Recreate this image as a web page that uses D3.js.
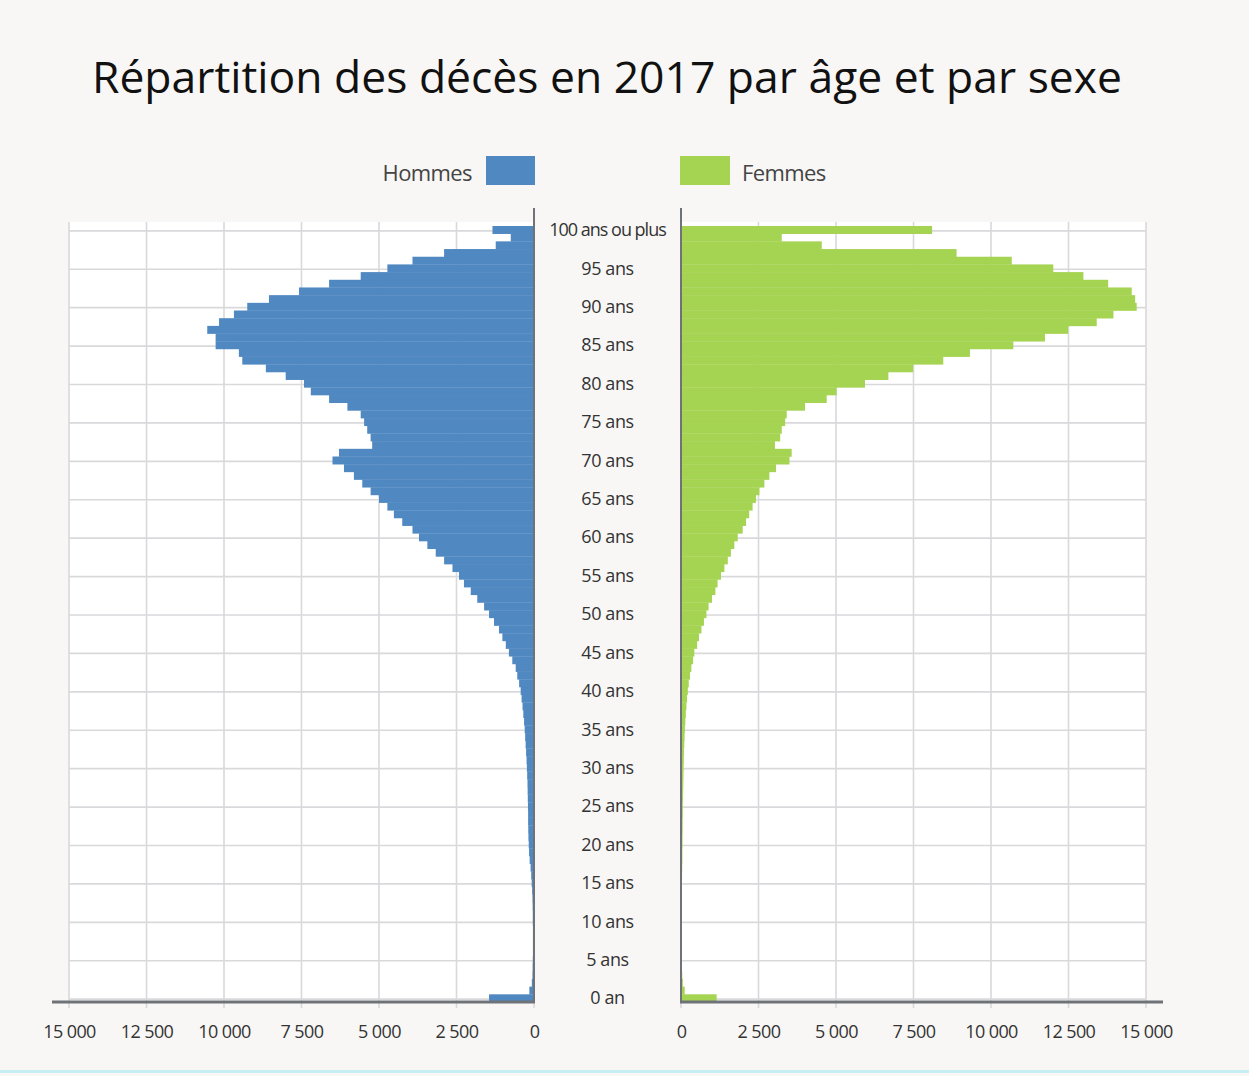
<!DOCTYPE html>
<html>
<head>
<meta charset="utf-8">
<script src="https://cdn.jsdelivr.net/npm/d3@7"></script>
<style>
  body { margin: 0; background: #f8f7f5; }
  svg { display: block; }
  text { font-family: "Open Sans", sans-serif; }
</style>
</head>
<body>
<div id="wrapper"></div>
<script>
// ages 0 .. 100 (100 = "100 ans ou plus")
const ages = d3.range(0, 101)

// décès hommes, index = age
const hommes = [
  1450, 150, 70, 50, 45, 40, 35, 35, 35, 35,
  40, 40, 45, 50, 60, 75, 90, 110, 140, 160,
  170, 180, 185, 190, 190, 195, 200, 205, 210, 220,
  230, 240, 255, 270, 285, 300, 320, 345, 370, 400,
  430, 480, 540, 590, 700, 810, 910, 1020, 1130, 1290,
  1450, 1610, 1830, 2040, 2260, 2420, 2630, 2900, 3170, 3440,
  3710, 3920, 4250, 4520, 4730, 5000, 5270, 5540, 5810, 6130,
  6500, 6290, 5220, 5270, 5380, 5480, 5590, 6020, 6610, 7200,
  7420, 8010, 8650, 9410, 9520, 10270, 10270, 10540, 10160, 9680,
  9250, 8550, 7580, 6610, 5590, 4730, 3920, 2900, 1235, 750,
  1340
]

// décès femmes, index = age
const femmes = [
  1150, 120, 60, 40, 30, 25, 20, 20, 20, 20,
  20, 20, 20, 25, 25, 30, 35, 40, 45, 45,
  50, 50, 55, 55, 60, 60, 65, 70, 75, 80,
  85, 90, 95, 105, 115, 125, 140, 155, 175, 195,
  220, 250, 290, 335, 390, 430, 520, 580, 660, 740,
  820, 890, 1000, 1110, 1180, 1290, 1400, 1510, 1610, 1720,
  1830, 1990, 2100, 2200, 2310, 2420, 2530, 2690, 2850, 3065,
  3500, 3570, 3030, 3200, 3250, 3360, 3410, 4000, 4700, 5020,
  5935, 6690, 7490, 8460, 9320, 10720, 11740, 12490, 13410, 13950,
  14700, 14650, 14540, 13780, 12980, 12010, 10670, 8890, 4540, 3250,
  8100
]

const xTicks = [0, 2500, 5000, 7500, 10000, 12500, 15000]
const ageTicks = d3.range(0, 101, 5)
const ageLabel = a => a === 0 ? "0 an" : a === 100 ? "100 ans ou plus" : a + " ans"

const title = "Répartition des décès en 2017 par âge et par sexe"
const legendHommes = "Hommes"
const legendFemmes = "Femmes"

const colorH = "#5088c1"
const colorF = "#a5d352"

const dimensions = { width: 1249, height: 1076 }

const svg = d3.select("#wrapper").append("svg")
    .attr("width", dimensions.width)
    .attr("height", dimensions.height)

// scales
const yScale = d3.scaleBand()
    .domain(ages.slice().reverse())
    .range([226, 1002])
    .padding(0)

const xLeft = d3.scaleLinear().domain([0, 15000]).range([534, 69])
const xRight = d3.scaleLinear().domain([0, 15000]).range([681, 1146])

const fmt = d3.formatLocale({ decimal: ",", thousands: " ", grouping: [3], currency: ["", "€"] }).format(",")

// plot backgrounds
svg.append("rect").attr("x", xLeft(15000)).attr("y", 222)
    .attr("width", xLeft(0) - xLeft(15000)).attr("height", 780).attr("fill", "#fff")
svg.append("rect").attr("x", xRight(0)).attr("y", 222)
    .attr("width", xRight(15000) - xRight(0)).attr("height", 780).attr("fill", "#fff")

// grid
const grid = svg.append("g").attr("stroke", "#d9d9dc").attr("stroke-width", 1.6)
;[xLeft, xRight].forEach(sc => {
  grid.selectAll(null).data(xTicks).enter().append("line")
      .attr("x1", d => sc(d)).attr("x2", d => sc(d))
      .attr("y1", 222).attr("y2", 1008)
  grid.selectAll(null).data(ageTicks).enter().append("line")
      .attr("x1", sc(0)).attr("x2", sc(15000))
      .attr("y1", d => yScale(d) + yScale.bandwidth() / 2 + 1)
      .attr("y2", d => yScale(d) + yScale.bandwidth() / 2 + 1)
})

// bars
svg.append("g").selectAll("rect")
    .data(ages).enter().append("rect")
    .attr("x", d => xLeft(hommes[d]))
    .attr("y", d => yScale(d))
    .attr("width", d => xLeft(0) - xLeft(hommes[d]))
    .attr("height", yScale.bandwidth() + 0.3)
    .attr("fill", colorH)

svg.append("g").selectAll("rect")
    .data(ages).enter().append("rect")
    .attr("x", xRight(0))
    .attr("y", d => yScale(d))
    .attr("width", d => xRight(femmes[d]) - xRight(0))
    .attr("height", yScale.bandwidth() + 0.3)
    .attr("fill", colorF)

// axes
const axisLeftGen = d3.axisBottom(xLeft).tickValues(xTicks).tickFormat(fmt).tickSize(0).tickPadding(23)
const axisRightGen = d3.axisBottom(xRight).tickValues(xTicks).tickFormat(fmt).tickSize(0).tickPadding(23)

;[axisLeftGen, axisRightGen].forEach(gen => {
  const g = svg.append("g")
      .attr("transform", "translate(0,1002)")
      .call(gen)
  g.select(".domain").remove()
  g.selectAll("text")
      .attr("fill", "#333")
      .style("font-size", "18px")
      .style("letter-spacing", "-0.6px")
})

// baselines
svg.append("line").attr("x1", xLeft(15000) - 17).attr("x2", xLeft(0) + 1)
    .attr("y1", 1002).attr("y2", 1002).attr("stroke", "#6f7378").attr("stroke-width", 3)
svg.append("line").attr("x1", xRight(0) - 1).attr("x2", xRight(15000) + 17)
    .attr("y1", 1002).attr("y2", 1002).attr("stroke", "#6f7378").attr("stroke-width", 3)

// vertical axis lines
svg.append("line").attr("x1", xLeft(0)).attr("x2", xLeft(0))
    .attr("y1", 208).attr("y2", 1002).attr("stroke", "#6f7378").attr("stroke-width", 2)
svg.append("line").attr("x1", xRight(0)).attr("x2", xRight(0))
    .attr("y1", 208).attr("y2", 1002).attr("stroke", "#6f7378").attr("stroke-width", 2)

// age labels in the middle
svg.append("g").selectAll("text")
    .data(ageTicks).enter().append("text")
    .attr("x", (xLeft(0) + xRight(0)) / 2)
    .attr("y", d => yScale(d) + yScale.bandwidth() / 2)
    .attr("dy", "0.35em")
    .attr("text-anchor", "middle")
    .attr("fill", "#333")
    .style("font-size", "18px")
    .style("letter-spacing", d => d === 100 ? "-1px" : "-0.4px")
    .text(ageLabel)

// legend
svg.append("text").attr("x", 472).attr("y", 173).attr("dy", "0.35em")
    .attr("text-anchor", "end").attr("fill", "#444")
    .style("font-size", "22px").style("letter-spacing", "-0.6px")
    .text(legendHommes)
svg.append("rect").attr("x", 486).attr("y", 156).attr("width", 49).attr("height", 29).attr("fill", colorH)
svg.append("rect").attr("x", 680).attr("y", 156).attr("width", 50).attr("height", 29).attr("fill", colorF)
svg.append("text").attr("x", 742).attr("y", 173).attr("dy", "0.35em")
    .attr("fill", "#444")
    .style("font-size", "22px").style("letter-spacing", "-0.6px")
    .text(legendFemmes)

// title
svg.append("text").attr("x", 607).attr("y", 93)
    .attr("text-anchor", "middle").attr("fill", "#111")
    .style("font-size", "43px")
    .attr("textLength", 1030).attr("lengthAdjust", "spacingAndGlyphs")
    .text(title)

// bottom border line
svg.append("rect").attr("x", 0).attr("y", 1070).attr("width", 1249).attr("height", 3).attr("fill", "#c6eef3")
</script>
</body>
</html>
